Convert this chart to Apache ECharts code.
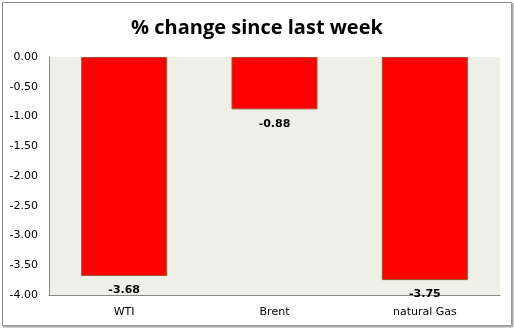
<!DOCTYPE html>
<html><head><meta charset="utf-8">
<script src="https://cdn.jsdelivr.net/npm/echarts@6/dist/echarts.min.js"></script>
<style>html,body{margin:0;padding:0;background:#fff}#c{width:514px;height:329px}</style>
</head><body><div id="c"></div>
<script>
var categories = ['WTI', 'Brent', 'natural Gas'];
var values = [-3.68, -0.88, -3.75];
var titleText = '% change since last week';

var chart = echarts.init(document.getElementById('c'), null, {renderer: 'canvas'});
chart.setOption({
  animation: false,
  title: {
    text: titleText, left: 'center', top: 13,
    textStyle: {fontFamily: 'Open Sans', fontWeight: 'bold', fontSize: 20, color: '#000'}
  },
  graphic: [
    {type: 'rect', shape: {x: 2.5, y: 2.5, width: 509, height: 323}, style: {fill: 'none', stroke: '#888', lineWidth: 1}, z: 100},
    {type: 'line', shape: {x1: 3, y1: 326.5, x2: 512, y2: 326.5}, style: {stroke: '#aaa', lineWidth: 2}, z: 100},
    {type: 'line', shape: {x1: 512.5, y1: 3, x2: 512.5, y2: 327}, style: {stroke: '#aaa', lineWidth: 2}, z: 100}
  ],
  grid: {left: 49, right: 14, top: 57, bottom: 34, show: true, backgroundColor: '#EEF0E8', borderWidth: 0},
  xAxis: {
    type: 'category', data: categories, position: 'bottom',
    axisLine: {show: true, onZero: false, lineStyle: {color: '#888'}},
    axisTick: {show: false},
    axisLabel: {margin: 12, fontFamily: 'DejaVu Sans', fontSize: 11, color: '#000'}
  },
  yAxis: {
    type: 'value', min: -4, max: 0, interval: 0.5,
    axisLine: {show: true, lineStyle: {color: '#888'}},
    axisTick: {show: false},
    splitLine: {show: false},
    axisLabel: {margin: 11, fontFamily: 'DejaVu Sans', fontSize: 11, color: '#000',
      formatter: function (v) { return v.toFixed(2); }}
  },
  series: [{
    type: 'bar', data: values, barWidth: 86,
    itemStyle: {color: '#FF0000', borderColor: '#A0522D', borderWidth: 1},
    label: {show: true, position: 'bottom', distance: 9, fontFamily: 'DejaVu Sans', fontWeight: 'bold', fontSize: 11, color: '#000',
      formatter: function (p) { return p.value.toFixed(2); }}
  }]
});
</script></body></html>
